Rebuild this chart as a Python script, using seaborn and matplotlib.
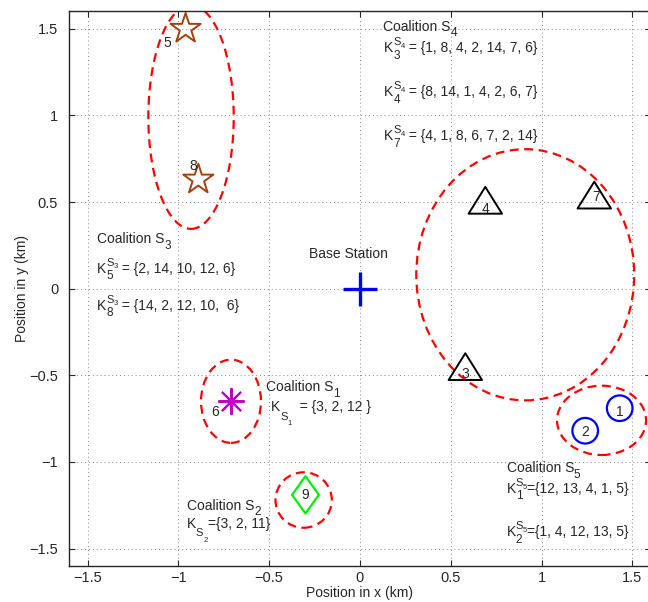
import numpy as np
import pandas as pd
import matplotlib
matplotlib.use('Agg')
import matplotlib.pyplot as plt
from matplotlib.patches import Ellipse
from matplotlib.path import Path
import seaborn as sns

# Node positions (km) and the coalition each one belongs to
node_id = [1, 2, 3, 4, 5, 6, 7, 8, 9]
node_x = [1.43, 1.24, 0.58, 0.69, -0.96, -0.71, 1.29, -0.89, -0.30]
node_y = [-0.69, -0.82, -0.45, 0.51, 1.50, -0.65, 0.54, 0.63, -1.19]
node_coal = ['S5', 'S5', 'S4', 'S4', 'S3', 'S1', 'S4', 'S3', 'S2']

# Coalition ellipses: centre, width, height (km)
coal_names = ['S1', 'S2', 'S3', 'S4', 'S5']
ell_cx = [-0.71, -0.31, -0.93, 0.91, 1.33]
ell_cy = [-0.65, -1.22, 0.99, 0.08, -0.76]
ell_w = [0.33, 0.31, 0.47, 1.20, 0.49]
ell_h = [0.48, 0.32, 1.29, 1.45, 0.40]

base_x = [0.0]
base_y = [0.0]

# Annotation texts: (coalition, member node, set text)
s4_rows = [('4', '3', ' = {1, 8, 4, 2, 14, 7, 6}'),
           ('4', '4', ' = {8, 14, 1, 4, 2, 6, 7}'),
           ('4', '7', ' = {4, 1, 8, 6, 7, 2, 14}')]
s3_rows = [('3', '5', ' = {2, 14, 10, 12, 6}'),
           ('3', '8', ' = {14, 2, 12, 10,  6}')]
s5_rows = [('5', '1', '={12, 13, 4, 1, 5}'),
           ('5', '2', '={1, 4, 12, 13, 5}')]
s1_row = ('1', '  = {3, 2, 12 }')
s2_row = ('2', '={3, 2, 11}')

df = pd.DataFrame({'id': node_id, 'x': node_x, 'y': node_y, 'coal': node_coal})

sns.set_style('ticks')
plt.rcParams['font.family'] = ['Liberation Sans', 'DejaVu Sans']

fig = plt.figure(figsize=(6.48, 6.02), dpi=100)
ax = fig.add_axes([0.107, 0.060, 0.897, 0.921])
renderer = fig.canvas.get_renderer()
FS = 10


def rich(x, y, groups):
    # groups of (text, scale, rise in pt) pieces sharing one start position
    cur = 0.0
    for g in groups:
        gw = 0.0
        for s, sc, rise in g:
            t = ax.annotate(s, (x, y), xytext=(cur, rise), textcoords='offset points',
                            fontsize=FS * sc, ha='left', va='baseline', zorder=4)
            gw = max(gw, t.get_window_extent(renderer).width * 72 / fig.dpi)
        cur += gw


def coalition(x, y, n):
    rich(x, y, [[('Coalition S', 1, 0)], [(n, 0.85, -4)]])


def k_sup(x, y, n, m, rest):
    rich(x, y, [[('K', 1, 0)], [('S', 0.8, 5), (m, 0.85, -4.5)],
                [(n, 0.55, 3.3)], [(rest, 1, 0)]])


def k_sub(x, y, n, rest):
    rich(x, y, [[('K', 1, 0)], [('S', 0.8, -6)], [(n, 0.55, -10)], [(rest, 1, 0)]])


tri = Path([(-1, -0.8), (1, -0.8), (0, 0.8), (-1, -0.8)], closed=True)
dia = Path([(0, 1), (0.72, 0), (0, -1), (-0.72, 0), (0, 1)], closed=True)
styles = {
    'S5': dict(marker='o', s=340, facecolor='none', edgecolor='#0000ff', linewidth=1.6),
    'S4': dict(marker=tri, s=580, facecolor='none', edgecolor='black', linewidth=1.4),
    'S3': dict(marker='*', s=520, facecolor='none', edgecolor='#a0400f', linewidth=1.4),
    'S2': dict(marker=dia, s=720, facecolor='none', edgecolor='#00ee00', linewidth=1.6),
}
for c, kw in styles.items():
    sub = df[df['coal'] == c]
    sns.scatterplot(data=sub, x='x', y='y', ax=ax, legend=False, zorder=3, **kw)

sub = df[df['coal'] == 'S1']
sns.scatterplot(data=sub, x='x', y='y', ax=ax, marker=(8, 2, 0), s=330,
                color='#c000c0', linewidth=1.5, legend=False, zorder=3)
sns.scatterplot(x=base_x, y=base_y, ax=ax, marker='+', s=620, color='#0000ff',
                linewidth=2.4, legend=False, zorder=3)

# node labels
lbl_dx = {1: 0.0, 2: 0.0, 3: 0.0, 4: 0.0, 5: -0.10, 6: -0.09, 7: 0.01, 8: -0.03, 9: 0.0}
lbl_dy = {1: -0.02, 2: -0.01, 3: -0.04, 4: -0.05, 5: -0.08, 6: -0.06, 7: -0.01, 8: 0.08, 9: 0.0}
for _, r in df.iterrows():
    ax.text(r['x'] + lbl_dx[r['id']], r['y'] + lbl_dy[r['id']], str(r['id']),
            ha='center', va='center', fontsize=FS, zorder=4)

for cx, cy, w, h in zip(ell_cx, ell_cy, ell_w, ell_h):
    ax.add_patch(Ellipse((cx, cy), w, h, fill=False, edgecolor='#ff0000',
                         linewidth=1.6, linestyle=(0, (4, 2.5)), zorder=2))

ax.set_xlim(-1.6, 1.6)
ax.set_ylim(-1.6, 1.6)

coalition(0.128, 1.489, '4')
for (n, m, rest), y in zip(s4_rows, [1.364, 1.11, 0.856]):
    k_sup(0.134, y, n, m, rest)
coalition(-1.449, 0.263, '3')
for (n, m, rest), y in zip(s3_rows, [0.09, -0.121]):
    k_sup(-1.446, y, n, m, rest)
coalition(0.807, -1.06, '5')
for (n, m, rest), y in zip(s5_rows, [-1.18, -1.43]):
    k_sup(0.807, y, n, m, rest)
coalition(-0.517, -0.593, '1')
k_sub(-0.49, -0.708, *s1_row)
coalition(-0.954, -1.275, '2')
k_sub(-0.954, -1.381, *s2_row)
ax.text(-0.279, 0.177, 'Base Station', fontsize=FS, va='baseline')

ticks = [-1.5, -1, -0.5, 0, 0.5, 1, 1.5]
tick_lbl = ['\u22121.5', '\u22121', '\u22120.5', '0', '0.5', '1', '1.5']
ax.set_xticks(ticks)
ax.set_xticklabels(tick_lbl)
ax.set_yticks(ticks)
ax.set_yticklabels(tick_lbl)
ax.tick_params(direction='in', top=True, right=True, labelsize=10.5, length=4, width=0.8)
ax.tick_params(axis='y', pad=8)
ax.grid(True, linestyle=(0, (1, 3)), color='#888888', linewidth=0.7)
for sp in ax.spines.values():
    sp.set_linewidth(1.0)
ax.set_xlabel('Position in x (km)', fontsize=10, labelpad=1)
ax.set_ylabel('Position in y (km)', fontsize=10, labelpad=0.5)

fig.savefig('out.png', dpi=100)
